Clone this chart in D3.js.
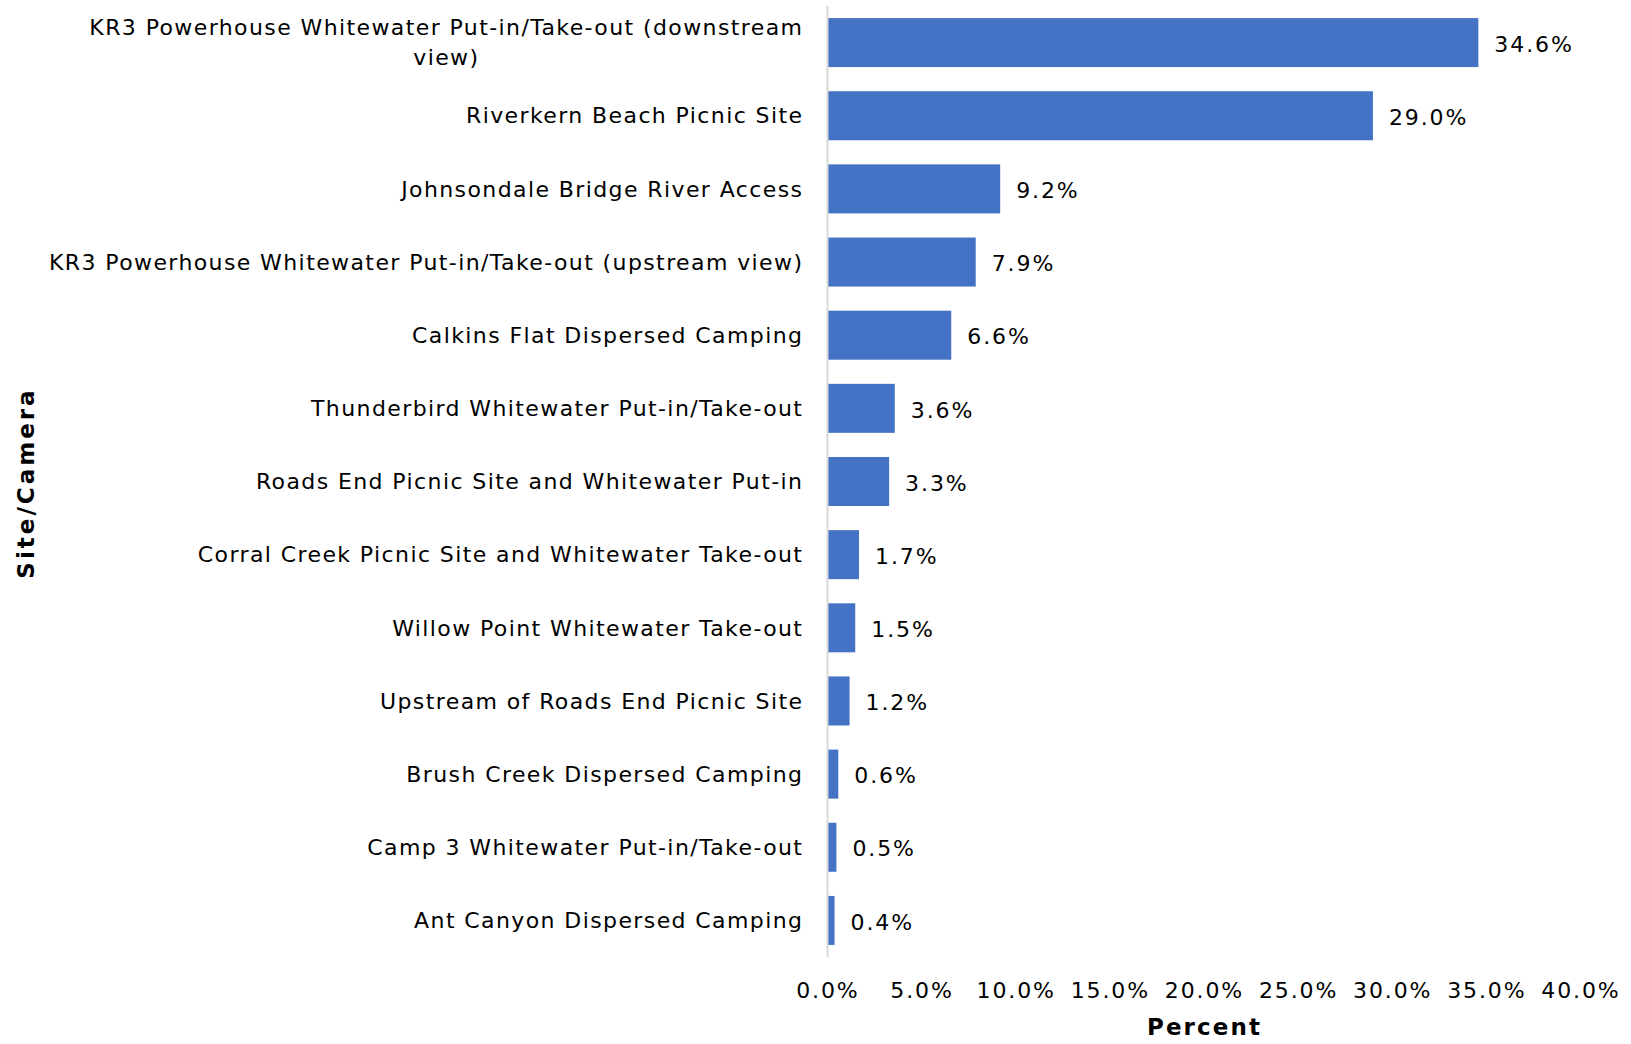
<!DOCTYPE html>
<html>
<head>
<meta charset="utf-8">
<script src="https://cdn.jsdelivr.net/npm/d3@7"></script>
<style>
  body { margin: 0; background: #fff; }
  svg { display: block; font-family: "DejaVu Sans", Verdana, sans-serif; }
</style>
</head>
<body>
<svg id="svg" width="1631" height="1044"></svg>
<script>
"use strict";

const sites = [
    "KR3 Powerhouse Whitewater Put-in/Take-out (downstream|view)",
    "Riverkern Beach Picnic Site",
    "Johnsondale Bridge River Access",
    "KR3 Powerhouse Whitewater Put-in/Take-out (upstream view)",
    "Calkins Flat Dispersed Camping",
    "Thunderbird Whitewater Put-in/Take-out",
    "Roads End Picnic Site and Whitewater Put-in",
    "Corral Creek Picnic Site and Whitewater Take-out",
    "Willow Point Whitewater Take-out",
    "Upstream of Roads End Picnic Site",
    "Brush Creek Dispersed Camping",
    "Camp 3 Whitewater Put-in/Take-out",
    "Ant Canyon Dispersed Camping"
];
const percents = [34.6, 29.0, 9.2, 7.9, 6.6, 3.6, 3.3, 1.7, 1.5, 1.2, 0.6, 0.5, 0.4];
const xTicks = [0, 5, 10, 15, 20, 25, 30, 35, 40];

const plotLeft = 827, plotRight = 1580, plotTop = 6, plotBottom = 957;
const labelSpacing = 1.4;   // DejaVu is narrower than the Verdana in the original
const numSpacing = 1.9;

var svg = d3.select("svg");

var x = d3.scaleLinear().domain([0, 40]).range([plotLeft, plotRight]);
var y = d3.scaleBand().domain(sites).range([plotTop, plotBottom]).paddingInner(0.33).paddingOuter(0.165);

// bars
svg.append("g")
    .selectAll("rect")
    .data(sites)
    .enter()
    .append("rect")
        .attr("x", x(0))
        .attr("y", d => y(d))
        .attr("width", (d, i) => x(percents[i]) - x(0))
        .attr("height", y.bandwidth())
        .attr("fill", "#4472C4");

// axis line
svg.append("line")
    .attr("x1", plotLeft + 0.5).attr("x2", plotLeft + 0.5)
    .attr("y1", plotTop).attr("y2", plotBottom)
    .attr("stroke", "#d9d9d9")
    .attr("stroke-width", 2);

// category labels
var labels = svg.append("g")
    .selectAll("text")
    .data(sites)
    .enter()
    .append("text")
        .attr("font-size", 22)
        .attr("letter-spacing", labelSpacing)
        .attr("fill", "#000");

labels.each(function(d) {
    var parts = d.split("|");
    var t = d3.select(this);
    var cy = y(d) + y.bandwidth() / 2;
    if (parts.length == 1) {
        t.attr("x", plotLeft - 25 + labelSpacing).attr("y", cy).attr("dy", "0.35em")
            .attr("text-anchor", "end").text(d);
    } else {
        parts.forEach((p, j) => {
            t.append("tspan").attr("y", cy + (j - 0.5) * 30).attr("dy", "0.35em").text(p);
        });
        var tspans = t.selectAll("tspan").nodes();
        var w = Math.max(...tspans.map(n => n.getComputedTextLength()));
        var cx = plotLeft - 25 + labelSpacing - w / 2;
        t.attr("text-anchor", "middle");
        t.selectAll("tspan").attr("x", cx);
    }
});

// value labels
svg.append("g")
    .selectAll("text")
    .data(sites)
    .enter()
    .append("text")
        .attr("x", (d, i) => x(percents[i]) + 16)
        .attr("y", d => y(d) + y.bandwidth() / 2 + 1.5)
        .attr("dy", "0.35em")
        .attr("font-size", 22)
        .attr("letter-spacing", numSpacing)
        .text((d, i) => percents[i].toFixed(1) + "%");

// x tick labels
svg.append("g")
    .selectAll("text")
    .data(xTicks)
    .enter()
    .append("text")
        .attr("x", d => x(d) + numSpacing / 2)
        .attr("y", 990)
        .attr("dy", "0.35em")
        .attr("text-anchor", "middle")
        .attr("font-size", 22)
        .attr("letter-spacing", numSpacing)
        .text(d => d.toFixed(1) + "%");

// axis titles
svg.append("text")
    .attr("x", (plotLeft + plotRight) / 2 + 1)
    .attr("y", 1027)
    .attr("dy", "0.35em")
    .attr("text-anchor", "middle")
    .attr("font-size", 23)
    .attr("letter-spacing", 2.1)
    .attr("font-weight", "bold")
    .text("Percent");

svg.append("text")
    .attr("transform", "translate(26," + ((plotTop + plotBottom) / 2 + 1.5) + ") rotate(-90)")
    .attr("dy", "0.35em")
    .attr("text-anchor", "middle")
    .attr("font-size", 23)
    .attr("letter-spacing", 3)
    .attr("font-weight", "bold")
    .text("Site/Camera");
</script>
</body>
</html>
